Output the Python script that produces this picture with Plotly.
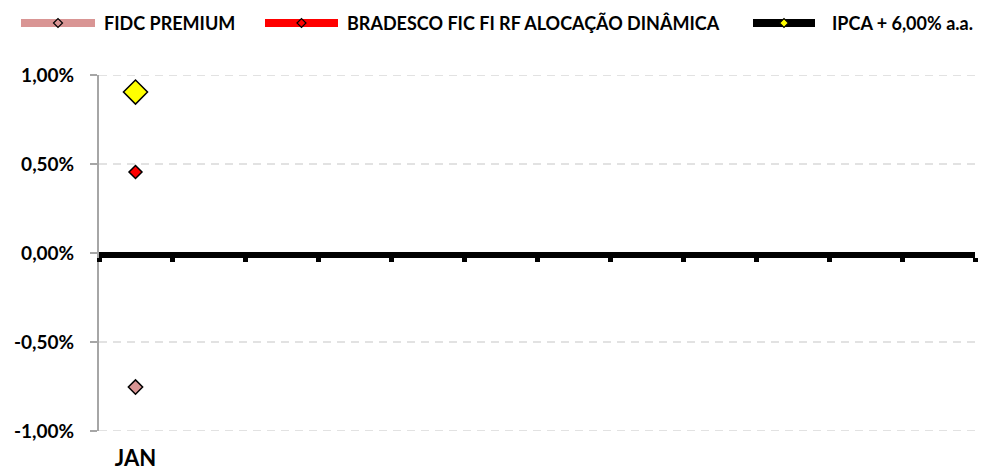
import plotly.graph_objects as go

months = ["JAN", "FEV", "MAR", "ABR", "MAI", "JUN", "JUL", "AGO", "SET", "OUT", "NOV", "DEZ"]
fidc_premium = [-0.753]
bradesco = [0.455]
ipca6 = [0.904]
y_ticks = [-1.0, -0.5, 0.0, 0.5, 1.0]
y_tick_labels = ["-1,00%", "-0,50%", "0,00%", "0,50%", "1,00%"]

FONT = "Lato"
series = [
    ("FIDC PREMIUM", fidc_premium, "#D99594", "#D99594", 11),
    ("BRADESCO FIC FI RF ALOCAÇÃO DINÂMICA", bradesco, "#FF0000", "#FF0000", 10),
    ("IPCA + 6,00% a.a.", ipca6, "#000000", "#FFFF00", 18.5),
]

# figure geometry (pixels)
W, H = 984, 475
ML, MR, MT, MB = 99, 9, 75, 44
PW, PH = W - ML - MR, H - MT - MB

def px_x(px):
    return (px - ML) / PW

def px_y(py):
    return (H - MB - py) / PH

fig = go.Figure()
xpos = list(range(1, len(months) + 1))
for name, vals, lcol, mcol, msize in series:
    fig.add_trace(go.Scatter(
        x=xpos[:len(vals)], y=vals, mode="markers", name=name, showlegend=False,
        marker=dict(symbol="diamond", size=msize, color=mcol, line=dict(color="black", width=1.5)),
    ))

# axis carrying zero line with category boundary ticks
fig.add_trace(go.Scatter(x=[None], y=[None], xaxis="x2", showlegend=False))

shapes = []
annotations = []

# dashed horizontal gridlines (skip zero, which is the thick axis line)
for v in y_ticks:
    if v == 0:
        continue
    shapes.append(dict(type="line", xref="paper", yref="y", x0=0, x1=1, y0=v, y1=v,
                       layer="below", line=dict(color="#D9D9D9", width=1.5, dash="8px,6px")))

# custom legend (line, diamond, text)
legend_items = [  # (line start px, line end px, text start px)
    (21, 95, 102),
    (265, 338, 345),
    (753, 815, 830),
]
LEG_Y = 23
for (name, vals, lcol, mcol, msize), (x0, x1, xt) in zip(series, legend_items):
    shapes.append(dict(type="line", xref="paper", yref="paper",
                       x0=px_x(x0), x1=px_x(x1), y0=px_y(LEG_Y), y1=px_y(LEG_Y),
                       line=dict(color=lcol, width=8)))
    shapes.append(dict(type="path", xref="paper", yref="paper",
                       xsizemode="pixel", ysizemode="pixel",
                       xanchor=px_x((x0 + x1) / 2), yanchor=px_y(LEG_Y),
                       path="M -4.5 0 L 0 4.5 L 4.5 0 L 0 -4.5 Z",
                       fillcolor=mcol, line=dict(color="black", width=1.2)))
    annotations.append(dict(xref="paper", yref="paper", x=px_x(xt), y=px_y(LEG_Y),
                            xanchor="left", yanchor="middle", showarrow=False,
                            text="<b>%s</b>" % name,
                            font=dict(family=FONT, size=18, color="black")))

fig.update_layout(
    width=W, height=H, showlegend=False,
    margin=dict(l=ML, r=MR, t=MT, b=MB),
    plot_bgcolor="white", paper_bgcolor="white",
    font=dict(family=FONT, size=16, color="black"),
    shapes=shapes, annotations=annotations,
    xaxis=dict(range=[0.5, 12.5], tickvals=[1], ticktext=["JAN"], showgrid=False,
               zeroline=False, showline=False, ticks="", automargin=False,
               ticklabelstandoff=12,
               tickfont=dict(family=FONT, size=22, weight="bold")),
    xaxis2=dict(range=[0.5, 12.5], overlaying="x", anchor="free", position=px_y(255),
                side="bottom", showline=True, linecolor="black", linewidth=6,
                ticks="outside", ticklen=4, tickwidth=5, tickcolor="black",
                tickvals=[i + 0.5 for i in range(0, 13)], showticklabels=False,
                showgrid=False, zeroline=False, automargin=False),
    yaxis=dict(range=[-1.0, 1.0], tickvals=y_ticks, ticktext=y_tick_labels,
               showgrid=False, zeroline=False, showline=True, linecolor="#A6A6A6",
               linewidth=2, ticks="outside", ticklen=7, tickcolor="#A6A6A6", tickwidth=2,
               automargin=False, ticklabelstandoff=12,
               tickfont=dict(family=FONT, size=19, weight="bold")),
)

fig.write_html("out.html", config={"displayModeBar": False},
               post_script="document.body.style.margin='0';document.body.style.padding='0';")
